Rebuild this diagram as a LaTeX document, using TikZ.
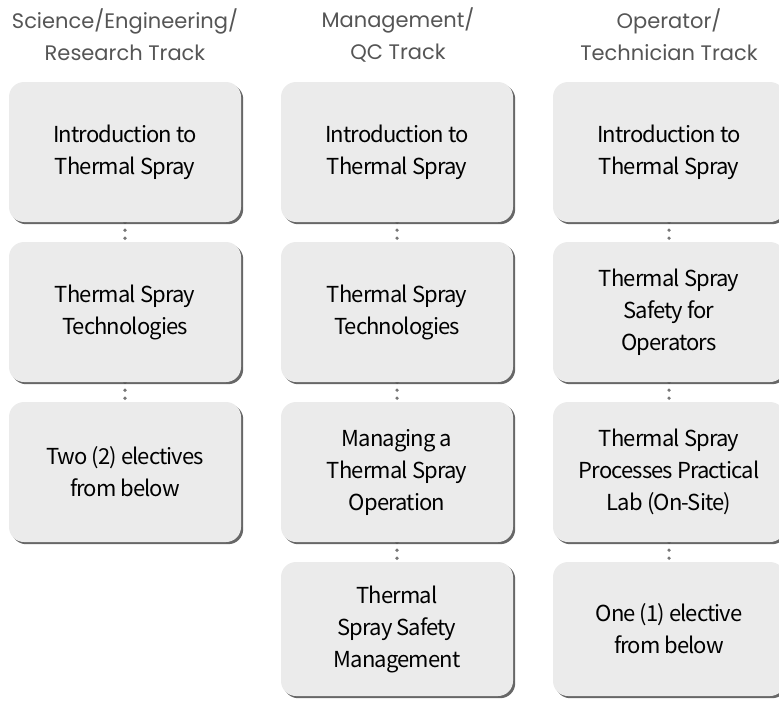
\documentclass[tikz,border=0pt]{standalone}
\usepackage{fontspec}
\setmainfont{Noto Sans CJK SC}[LetterSpace=-4]
\newfontfamily\headfont{Poppins}
\usetikzlibrary{shadows,backgrounds}
\definecolor{boxgray}{HTML}{EBEBEB}
\definecolor{headgray}{HTML}{555555}
\definecolor{dotgray}{HTML}{777777}
\tikzset{
  course/.style={rectangle, rounded corners=15pt, minimum width=232pt, minimum height=140pt,
    inner sep=0pt, align=center, fill=boxgray, text=black,
    font=\fontsize{22}{32}\selectfont,
    drop shadow={shadow xshift=2.2pt, shadow yshift=-2.2pt, fill=black!70, opacity=0.85}},
  head/.style={align=center, text=headgray, font=\headfont\fontsize{21}{32}\selectfont},
  link/.style={dotgray, line width=3.6pt, line cap=round, dash pattern=on 0pt off 8pt}
}
\begin{document}
\begin{tikzpicture}[x=1pt,y=-1pt]
\useasboundingbox (0,0) rectangle (779,701);
\clip (0,0) rectangle (779,701);
% headers
\node[head] (h1) at (125,35) {Science/Engineering/\\Research Track};
\node[head] (h2) at (398,35) {Management/\\QC Track};
\node[head] (h3) at (669,35) {Operator/\\Technician Track};
% column 1
\node[course] (a1) at (125,152) {Introduction to\\Thermal Spray};
\node[course] (a2) at (125,312) {Thermal Spray\\Technologies};
\node[course] (a3) at (125,472) {Two (2) electives\\from below};
% column 2
\node[course] (b1) at (397,152) {Introduction to\\Thermal Spray};
\node[course] (b2) at (397,312) {Thermal Spray\\Technologies};
\node[course] (b3) at (397,472) {Managing a\\Thermal Spray\\Operation};
\node[course, minimum height=134pt] (b4) at (397,629) {Thermal\\Spray Safety\\Management};
% column 3
\node[course] (c1) at (669,152) {Introduction to\\Thermal Spray};
\node[course] (c2) at (669,312) {Thermal Spray\\Safety for\\Operators};
\node[course] (c3) at (669,472) {Thermal Spray\\Processes Practical\\Lab (On-Site)};
\node[course, minimum height=134pt] (c4) at (669,629) {One (1) elective\\from below};
\begin{pgfonlayer}{background}
\foreach \u/\v in {a1/a2,a2/a3,b1/b2,b2/b3,b3/b4,c1/c2,c2/c3,c3/c4}
  \draw[link] (\u.south) -- (\v.north);
\end{pgfonlayer}
\end{tikzpicture}
\end{document}
